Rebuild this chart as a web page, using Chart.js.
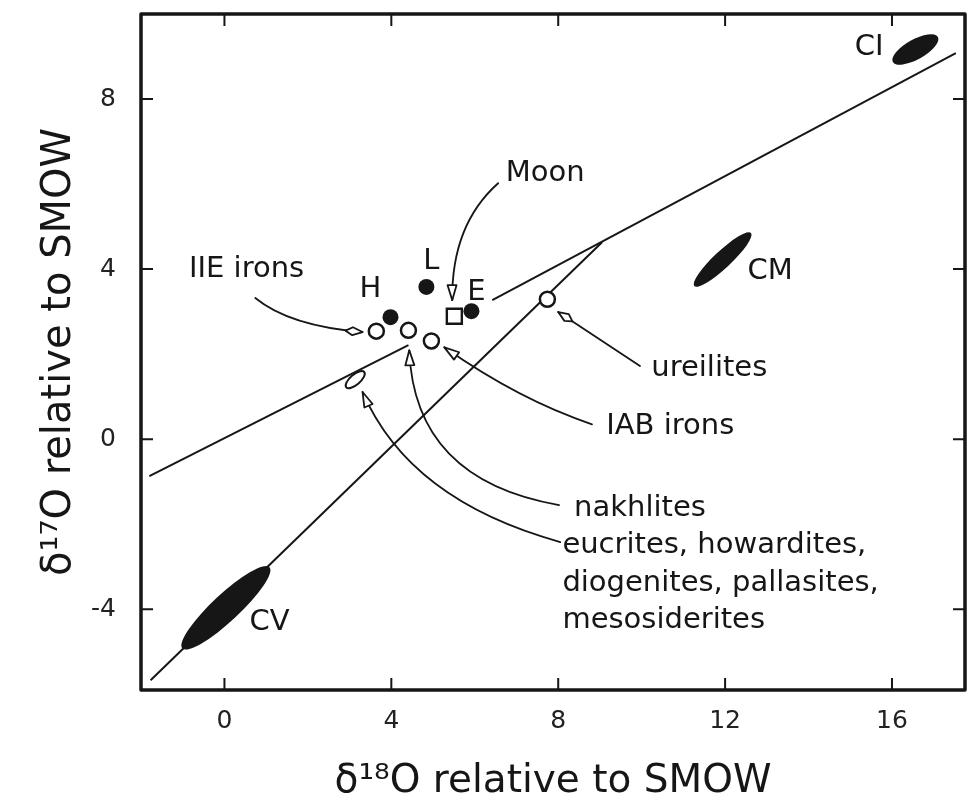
<!DOCTYPE html>
<html lang="en">

<head>
    <meta charset="UTF-8">
    <title>Oxygen isotopes of meteorites</title>
    <script src="https://cdn.jsdelivr.net/npm/chart.js@4.4.0/dist/chart.umd.min.js"></script>
    <style>
        body {
            margin: 0;
            background: #fff;
        }

        #wrap {
            width: 970px;
            height: 806px;
        }
    </style>
</head>

<body>
    <div id="wrap"><canvas id="oxygen" width="970" height="806"></canvas></div>

    <script>
        // all values in per mil relative to SMOW: d18 = δ18O, d17 = δ17O
        const xTicks = [0, 4, 8, 12, 16];
        const yTicks = [-4, 0, 4, 8];

        // terrestrial fractionation line (broken around the achondrite cluster)
        const tflLowD18 = [-1.80, 4.41];
        const tflLowD17 = [-0.87, 2.21];
        const tflHighD18 = [6.42, 17.53];
        const tflHighD17 = [3.27, 9.08];

        // carbonaceous chondrite anhydrous mineral line
        const ccamD18 = [-1.77, 9.05];
        const ccamD17 = [-5.67, 4.63];

        // ordinary and enstatite chondrites (filled)
        const chondriteNames = ['H', 'L', 'E'];
        const chondriteD18 = [3.98, 4.84, 5.92];
        const chondriteD17 = [2.87, 3.58, 3.01];

        // differentiated groups (open circles)
        const achondriteNames = ['IIE irons', 'nakhlites', 'IAB irons', 'ureilites'];
        const achondriteD18 = [3.64, 4.41, 4.96, 7.74];
        const achondriteD17 = [2.54, 2.56, 2.31, 3.29];

        const moonD18 = [5.51];
        const moonD17 = [2.89];

        // elongated fields, given by the two ends of their long axis
        const fieldNames = ['CI', 'CM', 'CV', 'eucrites'];
        const fieldFromD18 = [16.02, 11.26, -1.01, 2.92];
        const fieldFromD17 = [8.87, 3.60, -4.92, 1.22];
        const fieldToD18 = [17.10, 12.62, 1.08, 3.35];
        const fieldToD17 = [9.46, 4.85, -3.01, 1.58];

        const ink = '#161616';
        const fieldStyle = {
            CI: { w: 20, filled: true },
            CM: { w: 17, filled: true },
            CV: { w: 27, filled: true },
            eucrites: { w: 10, filled: false }
        };

        // text labels, anchored in data units
        const labels = [
            { t: 'CI', at: [15.45, 9.22], align: 'center' },
            { t: 'CM', at: [13.08, 3.95], align: 'center' },
            { t: 'CV', at: [1.08, -4.31], align: 'center' },
            { t: 'Moon', at: [7.69, 6.24], align: 'center' },
            { t: 'L', at: [4.96, 4.19], align: 'center' },
            { t: 'H', at: [3.50, 3.51], align: 'center' },
            { t: 'E', at: [6.04, 3.46], align: 'center' },
            { t: 'IIE irons', at: [0.53, 3.98], align: 'center' },
            { t: 'ureilites', at: [10.23, 1.67], align: 'left' },
            { t: 'IAB irons', at: [9.15, 0.31], align: 'left' },
            { t: 'nakhlites', at: [8.38, -1.62], align: 'left' },
            { t: 'eucrites, howardites,', at: [8.10, -2.49], align: 'left' },
            { t: 'diogenites, pallasites,', at: [8.10, -3.39], align: 'left' },
            { t: 'mesosiderites', at: [8.10, -4.26], align: 'left' }
        ];

        // leader lines: tail, bend, tip
        const leaders = [
            { from: [6.56, 6.02], via: [5.44, 5.04], tip: [5.46, 3.27], head: 'tri' },
            { from: [0.74, 3.32], via: [1.56, 2.66], tip: [3.31, 2.52], head: 'spear' },
            { from: [9.96, 1.72], via: [8.98, 2.36], tip: [8.00, 2.99], head: 'spear' },
            { from: [8.81, 0.35], via: [7.07, 0.92], tip: [5.27, 2.16], head: 'tri' },
            { from: [8.02, -1.55], via: [4.55, -0.96], tip: [4.43, 2.09], head: 'tri' },
            { from: [8.05, -2.42], via: [4.43, -1.44], tip: [3.31, 1.11], head: 'tri' }
        ];

        const pts = (xs, ys) => xs.map((v, i) => ({ x: v, y: ys[i] }));

        const overlay = {
            id: 'overlay',
            afterDatasetsDraw(chart) {
                const { ctx, chartArea: a, scales } = chart;
                const X = v => scales.x.getPixelForValue(v);
                const Y = v => scales.y.getPixelForValue(v);
                ctx.save();
                ctx.strokeStyle = ink;
                ctx.lineJoin = 'round';
                ctx.lineCap = 'round';

                fieldNames.forEach((name, i) => {
                    const x1 = X(fieldFromD18[i]), y1 = Y(fieldFromD17[i]);
                    const x2 = X(fieldToD18[i]), y2 = Y(fieldToD17[i]);
                    const st = fieldStyle[name];
                    ctx.beginPath();
                    ctx.ellipse((x1 + x2) / 2, (y1 + y2) / 2, Math.hypot(x2 - x1, y2 - y1) / 2, st.w / 2,
                        Math.atan2(y2 - y1, x2 - x1), 0, Math.PI * 2);
                    ctx.fillStyle = st.filled ? ink : '#fff';
                    ctx.fill();
                    if (!st.filled) {
                        ctx.lineWidth = 2;
                        ctx.stroke();
                    }
                });

                leaders.forEach(l => {
                    const p0 = [X(l.from[0]), Y(l.from[1])];
                    const c = [X(l.via[0]), Y(l.via[1])];
                    const t = [X(l.tip[0]), Y(l.tip[1])];
                    ctx.lineWidth = 1.8;
                    ctx.beginPath();
                    ctx.moveTo(p0[0], p0[1]);
                    ctx.quadraticCurveTo(c[0], c[1], t[0], t[1]);
                    ctx.stroke();
                    ctx.save();
                    ctx.translate(t[0], t[1]);
                    ctx.rotate(Math.atan2(t[1] - c[1], t[0] - c[0]));
                    ctx.beginPath();
                    if (l.head === 'spear') {
                        ctx.moveTo(0, 0);
                        ctx.lineTo(-10, -4);
                        ctx.lineTo(-17, 0);
                        ctx.lineTo(-10, 4);
                    } else {
                        ctx.moveTo(0, 0);
                        ctx.lineTo(-15, -4.5);
                        ctx.lineTo(-15, 4.5);
                    }
                    ctx.closePath();
                    ctx.fillStyle = '#fff';
                    ctx.fill();
                    ctx.stroke();
                    ctx.restore();
                });

                // frame with inward ticks on all sides
                ctx.lineCap = 'butt';
                ctx.lineWidth = 3.5;
                ctx.strokeRect(a.left, a.top, a.right - a.left, a.bottom - a.top);
                ctx.lineWidth = 2;
                ctx.beginPath();
                xTicks.forEach(v => {
                    const px = X(v);
                    ctx.moveTo(px, a.bottom); ctx.lineTo(px, a.bottom - 12);
                    ctx.moveTo(px, a.top); ctx.lineTo(px, a.top + 12);
                });
                yTicks.forEach(v => {
                    const py = Y(v);
                    ctx.moveTo(a.left, py); ctx.lineTo(a.left + 12, py);
                    ctx.moveTo(a.right, py); ctx.lineTo(a.right - 12, py);
                });
                ctx.stroke();

                ctx.fillStyle = ink;
                ctx.font = '29px "DejaVu Sans", sans-serif';
                ctx.textBaseline = 'middle';
                labels.forEach(l => {
                    ctx.textAlign = l.align;
                    ctx.fillText(l.t, X(l.at[0]), Y(l.at[1]));
                });
                ctx.restore();
            }
        };

        Chart.defaults.font.family = '"DejaVu Sans", sans-serif';
        Chart.defaults.color = ink;

        const lineSet = (xs, ys) => ({
            data: pts(xs, ys),
            showLine: true,
            pointRadius: 0,
            borderColor: ink,
            borderWidth: 2,
            order: 5
        });

        new Chart(document.getElementById('oxygen'), {
            type: 'scatter',
            data: {
                datasets: [
                    {
                        label: 'Moon',
                        data: pts(moonD18, moonD17),
                        pointStyle: 'rect',
                        pointRadius: 10.6,
                        backgroundColor: '#fff',
                        borderColor: ink,
                        borderWidth: 2.4,
                        order: 0
                    },
                    {
                        label: 'chondrites',
                        data: pts(chondriteD18, chondriteD17),
                        pointRadius: 8,
                        backgroundColor: ink,
                        borderColor: ink,
                        borderWidth: 0,
                        order: 1
                    },
                    {
                        label: 'achondrites',
                        data: pts(achondriteD18, achondriteD17),
                        pointRadius: 7.5,
                        backgroundColor: '#fff',
                        borderColor: ink,
                        borderWidth: 2.5,
                        order: 2
                    },
                    lineSet(tflLowD18, tflLowD17),
                    lineSet(tflHighD18, tflHighD17),
                    lineSet(ccamD18, ccamD17)
                ]
            },
            options: {
                responsive: false,
                animation: false,
                layout: { autoPadding: false, padding: { top: 14, right: 5, left: 0, bottom: 0 } },
                plugins: {
                    legend: { display: false },
                    tooltip: { enabled: false }
                },
                scales: {
                    x: {
                        type: 'linear',
                        min: -2,
                        max: 17.75,
                        afterFit: s => {
                            s.height = 116;
                            s.paddingLeft = 0;
                            s.paddingRight = 0;
                        },
                        afterBuildTicks: s => { s.ticks = xTicks.map(v => ({ value: v })); },
                        grid: { display: false },
                        border: { display: false },
                        ticks: { font: { size: 25 }, color: '#222', padding: 8 },
                        title: {
                            display: true,
                            text: 'δ¹⁸O relative to SMOW',
                            font: { size: 39 },
                            color: ink,
                            padding: { bottom: 1 }
                        }
                    },
                    y: {
                        type: 'linear',
                        min: -5.9,
                        max: 10,
                        afterFit: s => {
                            s.width = 141;
                            s.paddingTop = 0;
                            s.paddingBottom = 0;
                        },
                        afterBuildTicks: s => { s.ticks = yTicks.map(v => ({ value: v })); },
                        grid: { display: false },
                        border: { display: false },
                        ticks: { font: { size: 25 }, color: '#222', padding: 17 },
                        title: {
                            display: true,
                            text: 'δ¹⁷O relative to SMOW',
                            font: { size: 40 },
                            color: ink,
                            padding: { top: 36 }
                        }
                    }
                }
            },
            plugins: [overlay]
        });
    </script>
</body>

</html>
